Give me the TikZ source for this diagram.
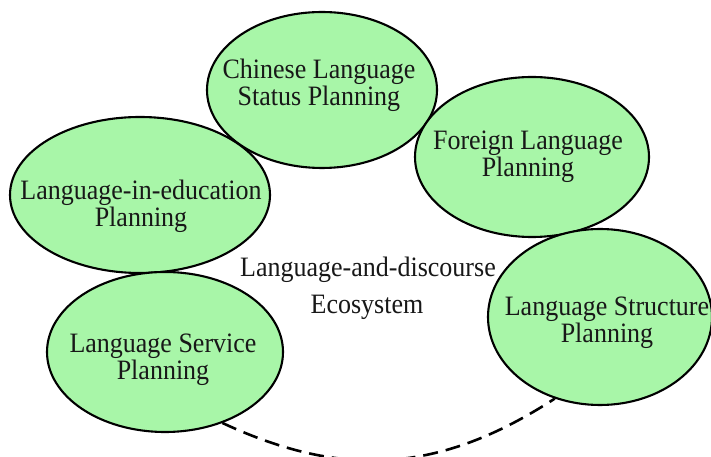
\documentclass[tikz,border=0pt]{standalone}
\usepackage{fontspec}
\setmainfont{Liberation Serif}
\usetikzlibrary{shapes.geometric}
\definecolor{bubblegreen}{RGB}{168,246,168}
\definecolor{inktext}{RGB}{24,24,24}
\newcommand{\tallstack}[1]{\scalebox{1}[1.08]{\begin{tabular}{@{}c@{}}#1\end{tabular}}}
\tikzset{
  bubble/.style={ellipse, draw=black, line width=2.1pt, fill=bubblegreen, inner sep=0pt},
  lbl/.style={align=center, text=inktext, inner sep=0pt, font=\fontsize{26}{23}\selectfont},
  dashlink/.style={draw=black, line width=2.6pt, dash pattern=on 15pt off 8pt}
}
\begin{document}
\begin{tikzpicture}[x=1pt,y=1pt]
\fill[white] (0,0) rectangle (711,457);
\useasboundingbox (0,0) rectangle (711,457);

\node[bubble, minimum width=230pt, minimum height=156pt] (chinese) at (322,367) {};
\node[bubble, minimum width=234pt, minimum height=160pt] (foreign) at (532,300) {};
\node[bubble, minimum width=260pt, minimum height=156pt] (edu) at (140,262) {};
\node[bubble, minimum width=236pt, minimum height=160pt] (service) at (165,105) {};
\node[bubble, minimum width=224pt, minimum height=176pt] (structure) at (600,140) {};

\node[lbl] (chinese-t) at (319,371) {\tallstack{Chinese Language\\Status Planning}};
\node[lbl] (foreign-t) at (528,300) {\tallstack{Foreign Language\\Planning}};
\node[lbl] (edu-t) at (141,250) {\tallstack{Language-in-education\\Planning}};
\node[lbl] (service-t) at (163,97) {\tallstack{Language Service\\Planning}};
\node[lbl] (structure-t) at (607,134) {\tallstack{Language Structure\\Planning}};

\node[lbl] (eco1) at (368,187) {\tallstack{Language-and-discourse}};
\node[lbl] (eco2) at (367,149) {\tallstack{Ecosystem}};

\draw[dashlink] (service.-51) .. controls +(-25:135) and +(213:135) .. (structure.-119.5);
\end{tikzpicture}
\end{document}
